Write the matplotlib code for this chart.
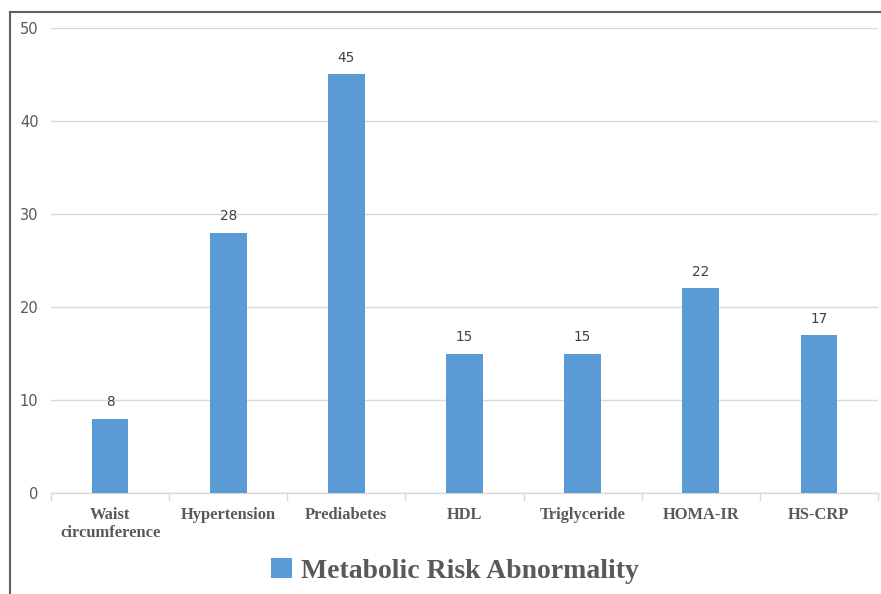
import matplotlib
matplotlib.use("Agg")
import matplotlib.pyplot as plt
from matplotlib.lines import Line2D
from matplotlib.patches import Patch

categories = ["Waist\ncircumference", "Hypertension", "Prediabetes", "HDL",
              "Triglyceride", "HOMA-IR", "HS-CRP"]
values = [8, 28, 45, 15, 15, 22, 17]
yticks = [0, 10, 20, 30, 40, 50]
series_name = "Metabolic Risk Abnormality"

bar_color = "#5B9BD5"
grid_color = "#D9D9D9"
text_gray = "#595959"

fig = plt.figure(figsize=(8.81, 5.94), dpi=100)
ax = fig.add_axes([51/881, 1-493/594, 827/881, (493-28)/594])

x = list(range(len(categories)))
bars = ax.bar(x, values, width=0.31, color=bar_color, zorder=3)
for xi, v in zip(x, values):
    ax.text(xi, v + 1.0, str(v), ha="center", va="bottom", fontsize=9.8,
            color="#404040", family="DejaVu Sans")

ax.set_xlim(-0.5, len(categories) - 0.5)
ax.set_ylim(0, 50)
ax.set_yticks(yticks)
ax.set_yticklabels([str(t) for t in yticks], fontsize=10.5, color=text_gray)
ax.tick_params(axis="y", length=0, pad=9)
ax.yaxis.grid(True, color=grid_color, linewidth=1, zorder=0)
ax.set_axisbelow(True)

ax.set_xticks(x)
ax.set_xticklabels(categories, fontsize=11.9, fontweight="bold",
                   family="Liberation Serif", color=text_gray, linespacing=1.2)
ax.tick_params(axis="x", length=0, pad=10)
# boundary ticks
for b in [i - 0.5 for i in range(len(categories) + 1)]:
    ax.plot([b, b], [0, -0.7], color=grid_color, lw=1, clip_on=False)

for s in ["top", "right", "left"]:
    ax.spines[s].set_visible(False)
ax.spines["bottom"].set_color(grid_color)
ax.spines["bottom"].set_linewidth(1)

handle = Patch(facecolor=bar_color, edgecolor="none")
leg = fig.legend([handle], [series_name], loc="center", bbox_to_anchor=(455/881, 1-571/594),
                 frameon=False, handlelength=0.75, handleheight=0.75, handletextpad=0.35,
                 prop={"family": "Liberation Serif", "weight": "bold", "size": 20})
for t in leg.get_texts():
    t.set_color(text_gray)

# outer frame lines (left and top)
fig.add_artist(Line2D([10/881, 10/881], [0, 1-12/594], color="#606060", lw=1.5,
                      transform=fig.transFigure))
fig.add_artist(Line2D([10/881, 1], [1-12/594, 1-12/594], color="#606060", lw=1.5,
                      transform=fig.transFigure))

fig.savefig("out.png", dpi=100)
